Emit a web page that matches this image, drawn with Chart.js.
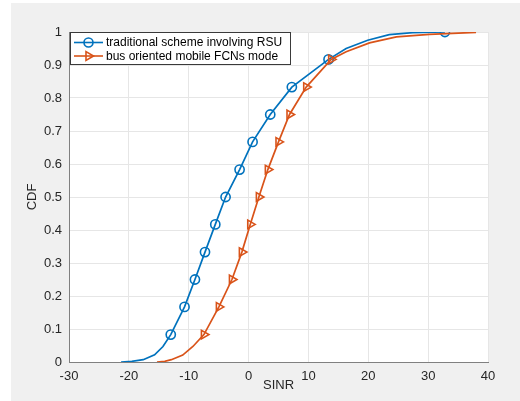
<!DOCTYPE html>
<html><head><meta charset="utf-8">
<script src="https://cdn.jsdelivr.net/npm/chart.js@4/dist/chart.umd.min.js"></script>
<style>html,body{margin:0;padding:0;background:#fff;overflow:hidden}
#c{position:absolute;left:0;top:0}</style>
</head><body><canvas id="c" width="520" height="401"></canvas>
<script>
const seriesNames = ['traditional scheme involving RSU', 'bus oriented mobile FCNs mode'];
const xTicks = [-30, -20, -10, 0, 10, 20, 30, 40];
const yTicks = [0, 0.1, 0.2, 0.3, 0.4, 0.5, 0.6, 0.7, 0.8, 0.9, 1];

const blueLineX = [-21.3, -19.5, -17.6, -15.7, -14.3, -13.0, -10.7, -8.96, -7.28, -5.56, -3.84, -1.5, 0.67, 3.62, 7.23, 13.36, 16.3, 19.9, 23.5, 27.4, 32.8];
const blueLineY = [0, 0.002, 0.007, 0.022, 0.047, 0.083, 0.167, 0.25, 0.333, 0.417, 0.5, 0.583, 0.667, 0.75, 0.833, 0.917, 0.95, 0.975, 0.992, 0.998, 1.0];
const blueMarkX = [-13.0, -10.7, -8.96, -7.28, -5.56, -3.84, -1.5, 0.67, 3.62, 7.23, 13.36, 32.8];
const blueMarkY = [0.083, 0.167, 0.25, 0.333, 0.417, 0.5, 0.583, 0.667, 0.75, 0.833, 0.917, 1.0];

const orangeLineX = [-15.3, -14.0, -12.9, -11.0, -9.3, -7.46, -4.96, -2.78, -1.12, 0.28, 1.72, 3.22, 5.0, 6.84, 9.63, 13.8, 16.3, 20.2, 24.7, 30.2, 38.0];
const orangeLineY = [0, 0.002, 0.007, 0.021, 0.047, 0.083, 0.167, 0.25, 0.333, 0.417, 0.5, 0.583, 0.667, 0.75, 0.833, 0.917, 0.94, 0.967, 0.985, 0.993, 0.999];
const orangeMarkX = [-7.46, -4.96, -2.78, -1.12, 0.28, 1.72, 3.22, 5.0, 6.84, 9.63, 13.8];
const orangeMarkY = [0.083, 0.167, 0.25, 0.333, 0.417, 0.5, 0.583, 0.667, 0.75, 0.833, 0.917];

const BLUE = '#0072BD', ORANGE = '#D95319';
const FONT = '"Liberation Sans", Arial, Helvetica, sans-serif';
const zip = (xs, ys) => xs.map((x, i) => ({x, y: ys[i]}));

const bgPlugin = {
  id: 'bg',
  beforeDraw(chart) {
    const {ctx, chartArea: a} = chart;
    ctx.save();
    ctx.fillStyle = '#ffffff';
    ctx.fillRect(0, 0, chart.width, chart.height);
    ctx.fillStyle = '#f0f0f0';
    ctx.fillRect(11, 3, chart.width - 11, chart.height - 3);
    ctx.fillStyle = '#ffffff';
    ctx.fillRect(a.left, a.top, a.right - a.left, a.bottom - a.top);
    ctx.restore();
  }
};

const legendPlugin = {
  id: 'boxLegend',
  afterDraw(chart) {
    const {ctx, chartArea: a} = chart;
    const x0 = a.left + 1, y0 = a.top, w = 220, h = 32;
    ctx.save();
    ctx.fillStyle = '#ffffff';
    ctx.fillRect(x0, y0, w, h);
    ctx.strokeStyle = '#3a3a3a';
    ctx.lineWidth = 1;
    ctx.strokeRect(x0 + 0.5, y0 + 0.5, w, h);
    const rows = [
      {name: seriesNames[0], color: BLUE, style: 'circle', y: y0 + 10.5},
      {name: seriesNames[1], color: ORANGE, style: 'triangle', y: y0 + 24}
    ];
    ctx.font = '12px ' + FONT;
    ctx.textBaseline = 'middle';
    ctx.textAlign = 'left';
    rows.forEach(r => {
      ctx.strokeStyle = r.color;
      ctx.lineWidth = 1.6;
      ctx.beginPath();
      ctx.moveTo(x0 + 4, r.y);
      ctx.lineTo(x0 + 33, r.y);
      ctx.stroke();
      ctx.fillStyle = 'rgba(0,0,0,0)';
      Chart.helpers.drawPoint(ctx, {pointStyle: r.style, rotation: r.style === 'triangle' ? 90 : 0, radius: r.style === 'triangle' ? 5 : 4.5, borderWidth: 1.6}, x0 + 18.5, r.y);
      ctx.fillStyle = '#000000';
      ctx.fillText(r.name, x0 + 36, r.y + 0.5);
    });
    ctx.restore();
  }
};

new Chart(document.getElementById('c'), {
  type: 'scatter',
  data: {
    datasets: [
      {label: seriesNames[1], data: zip(orangeLineX, orangeLineY), showLine: true, borderColor: ORANGE, borderWidth: 1.7, pointRadius: 0, tension: 0},
      {label: seriesNames[1] + ' markers', data: zip(orangeMarkX, orangeMarkY), showLine: false, pointStyle: 'triangle', rotation: 90, pointRadius: 5, borderColor: ORANGE, backgroundColor: 'rgba(0,0,0,0)', pointBorderWidth: 1.6},
      {label: seriesNames[0], data: zip(blueLineX, blueLineY), showLine: true, borderColor: BLUE, borderWidth: 1.7, pointRadius: 0, tension: 0},
      {label: seriesNames[0] + ' markers', data: zip(blueMarkX, blueMarkY), showLine: false, pointStyle: 'circle', pointRadius: 4.6, borderColor: BLUE, backgroundColor: 'rgba(0,0,0,0)', pointBorderWidth: 1.6}
    ]
  },
  options: {
    responsive: false,
    animation: false,
    devicePixelRatio: 1,
    layout: {padding: {left: 0, top: 32, right: 32, bottom: 0}},
    plugins: {legend: {display: false}, tooltip: {enabled: false}},
    elements: {point: {hoverRadius: 0}},
    scales: {
      x: {
        type: 'linear', min: -30, max: 40,
        afterBuildTicks: s => { s.ticks = xTicks.map(v => ({value: v})); },
        afterFit: s => { s.height = 39; },
        ticks: {color: '#262626', font: {family: FONT, size: 13}, padding: 7, callback: v => String(v), maxRotation: 0},
        grid: {color: '#e6e6e6', drawTicks: false},
        border: {color: '#808080', width: 1},
        title: {display: true, text: 'SINR', color: '#262626', font: {family: FONT, size: 13}, padding: {top: 0, bottom: 7.5}}
      },
      y: {
        type: 'linear', min: 0, max: 1,
        afterBuildTicks: s => { s.ticks = yTicks.map(v => ({value: v})); },
        afterFit: s => { s.width = 69; },
        ticks: {color: '#262626', font: {family: FONT, size: 13}, padding: 7, callback: v => String(Math.round(v * 10) / 10)},
        grid: {color: '#e6e6e6', drawTicks: false},
        border: {color: '#808080', width: 1},
        title: {display: true, text: 'CDF', color: '#262626', font: {family: FONT, size: 13}, padding: {top: 25, bottom: 0}}
      }
    }
  },
  plugins: [bgPlugin, legendPlugin]
});
</script>
</body></html>
